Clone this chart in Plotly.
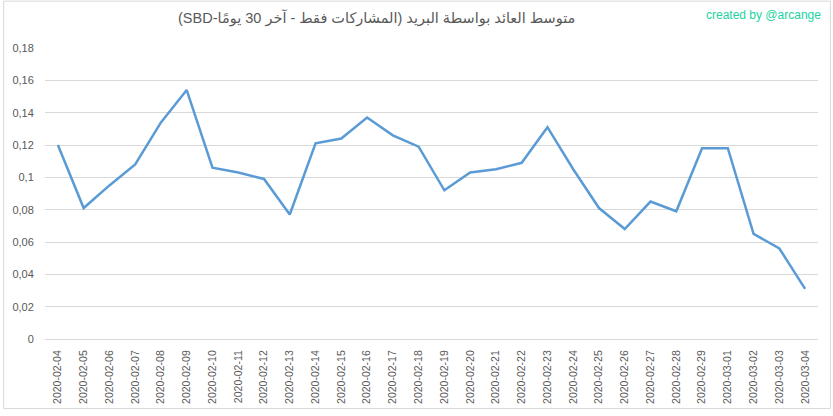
import plotly.graph_objects as go

dates = [
    "2020-02-04", "2020-02-05", "2020-02-06", "2020-02-07", "2020-02-08",
    "2020-02-09", "2020-02-10", "2020-02-11", "2020-02-12", "2020-02-13",
    "2020-02-14", "2020-02-15", "2020-02-16", "2020-02-17", "2020-02-18",
    "2020-02-19", "2020-02-20", "2020-02-21", "2020-02-22", "2020-02-23",
    "2020-02-24", "2020-02-25", "2020-02-26", "2020-02-27", "2020-02-28",
    "2020-02-29", "2020-03-01", "2020-03-02", "2020-03-03", "2020-03-04",
]
values = [
    0.120, 0.081, 0.095, 0.108, 0.134,
    0.154, 0.106, 0.103, 0.099, 0.077,
    0.121, 0.124, 0.137, 0.126, 0.119,
    0.092, 0.103, 0.105, 0.109, 0.131,
    0.105, 0.081, 0.068, 0.085, 0.079,
    0.118, 0.118, 0.065, 0.056, 0.031,
]
y_tickvals = [0, 0.02, 0.04, 0.06, 0.08, 0.10, 0.12, 0.14, 0.16, 0.18]
y_ticktext = ["0", "0,02", "0,04", "0,06", "0,08", "0,1", "0,12", "0,14", "0,16", "0,18"]

title_text = "متوسط العائد بواسطة البريد (المشاركات فقط - آخر 30 يومًا-SBD)"
credit_text = "created by @arcange"

W, H = 833, 416
L, R, T, B = 42, 15, 48, 73
PW, PH = W - L - R, H - T - B


def px_x(p):
    return (p - L) / PW


def px_y(p):
    return (H - B - p) / PH


fig = go.Figure(
    go.Scatter(
        x=dates,
        y=values,
        mode="lines",
        line=dict(color="#5b9bd5", width=2.5),
        hoverinfo="x+y",
    )
)

fig.update_layout(
    width=W,
    height=H,
    margin=dict(l=L, r=R, t=T, b=B, pad=0),
    paper_bgcolor="white",
    plot_bgcolor="white",
    separators=", ",
    showlegend=False,
    font=dict(family="Arial, Liberation Sans, DejaVu Sans", color="#595959"),
    xaxis=dict(
        type="category",
        range=[-0.5, len(dates) - 0.5],
        showgrid=False,
        showline=True,
        linecolor="#d9d9d9",
        linewidth=1,
        ticks="outside",
        ticklen=6,
        tickcolor="rgba(0,0,0,0)",
        tickangle=-90,
        tickfont=dict(size=10.5, color="#595959"),
        fixedrange=True,
    ),
    yaxis=dict(
        range=[0, 0.18],
        tickvals=y_tickvals,
        ticktext=y_ticktext,
        showgrid=True,
        gridcolor="#d9d9d9",
        gridwidth=1,
        zeroline=False,
        showline=False,
        ticks="outside",
        ticklen=8,
        tickcolor="rgba(0,0,0,0)",
        tickfont=dict(size=11, color="#595959"),
        fixedrange=True,
    ),
    annotations=[
        dict(
            text="\u202B" + title_text + "\u202C",
            xref="paper", yref="paper",
            x=px_x(375), y=px_y(18),
            xanchor="center", yanchor="middle",
            showarrow=False,
            font=dict(size=14.5, color="#595959", family="Arial, DejaVu Sans"),
        ),
        dict(
            text=credit_text,
            xref="paper", yref="paper",
            x=px_x(823), y=px_y(15),
            xanchor="right", yanchor="middle",
            showarrow=False,
            font=dict(size=12, color="#22d3a2", family="Arial, Liberation Sans"),
        ),
    ],
    shapes=[
        dict(
            type="rect",
            xref="paper", yref="paper",
            x0=px_x(0.5), x1=px_x(830.5),
            y0=px_y(413.5), y1=px_y(0.5),
            line=dict(color="#d9d9d9", width=1),
            fillcolor="rgba(0,0,0,0)",
            layer="below",
        )
    ],
)

fig.write_html(
    "out.html",
    config=dict(displayModeBar=False),
    post_script="document.body.style.margin='0px';document.body.style.overflow='hidden';",
)
